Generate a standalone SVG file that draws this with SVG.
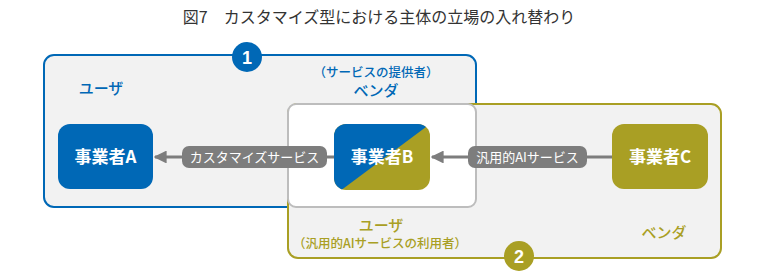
<svg xmlns="http://www.w3.org/2000/svg" width="763" height="279" viewBox="0 0 763 279">
<style>
text{font-family:"Noto Sans CJK JP","Noto Sans",sans-serif;}
.title{font-size:16px;fill:#333;}
.node{font-size:17px;font-weight:bold;fill:#fff;text-anchor:middle;}
.pill{fill:#7d7d7d;}
.plabel{font-size:13px;fill:#fff;text-anchor:middle;}
.blue{fill:#0068b6;}
.olive{fill:#a99f24;}
.lb{font-size:15px;text-anchor:middle;font-weight:500;}
.ls{font-size:12.5px;text-anchor:middle;font-weight:500;}
.num{font-size:18px;font-weight:bold;fill:#fff;text-anchor:middle;font-family:"Liberation Sans",sans-serif;}
.conn{stroke:#7d7d7d;stroke-width:3;fill:none;}
</style>
<defs>
<marker id="ah" viewBox="0 0 10 10" refX="9" refY="5" markerWidth="4.3" markerHeight="4.3" orient="auto" markerUnits="strokeWidth">
<path d="M0,0 L10,5 L0,10 z" fill="#7d7d7d"/>
</marker>
<clipPath id="clipB"><rect x="334" y="124" width="96" height="66" rx="12"/></clipPath>
</defs>
<rect width="763" height="279" fill="#fff"/>
<text class="title" x="379" y="23" text-anchor="middle">図7　カスタマイズ型における主体の立場の入れ替わり</text>

<g id="group1">
<rect x="44" y="55" width="432" height="152" rx="10" fill="#f2f2f2" stroke="#0068b6" stroke-width="2"/>
</g>
<g id="group2">
<rect x="288" y="104" width="433" height="154" rx="10" fill="#f2f2f2" stroke="#a99f24" stroke-width="2"/>
</g>
<g id="overlap">
<rect x="288" y="104" width="188" height="103" rx="8" fill="#fff" stroke="#bdbdbd" stroke-width="2"/>
</g>

<g id="badge1">
<circle cx="247" cy="57" r="15" fill="#0068b6"/>
<text class="num" x="247" y="64">1</text>
</g>
<g id="badge2">
<circle cx="519" cy="256" r="15" fill="#a99f24"/>
<text class="num" x="519" y="263">2</text>
</g>

<g id="labels">
<text class="lb blue" x="101" y="94">ユーザ</text>
<text class="ls blue" x="376" y="77">（サービスの提供者）</text>
<text class="lb blue" x="376" y="96">ベンダ</text>
<text class="lb olive" x="381" y="231">ユーザ</text>
<text class="ls olive" x="380" y="248">（汎用的AIサービスの利用者）</text>
<text class="lb olive" x="664" y="238">ベンダ</text>
</g>

<g id="connectors">
<line class="conn" x1="612" y1="157" x2="432" y2="157" marker-end="url(#ah)"/>
<line class="conn" x1="334" y1="157" x2="155" y2="157" marker-end="url(#ah)"/>
<rect class="pill" x="468" y="146" width="119" height="22" rx="7"/>
<text class="plabel" x="527.5" y="161.5">汎用的AIサービス</text>
<rect class="pill" x="182" y="146" width="145" height="22" rx="7"/>
<text class="plabel" x="254.5" y="161.5">カスタマイズサービス</text>
</g>

<g id="nodeA">
<rect x="58" y="124" width="95" height="65" rx="12" fill="#0068b6"/>
<text class="node" x="105.5" y="163">事業者A</text>
</g>
<g id="nodeB">
<g clip-path="url(#clipB)">
<rect x="334" y="124" width="96" height="66" fill="#a99f24"/>
<polygon points="334,124 430,124 336,194 334,194" fill="#0068b6"/>
</g>
<text class="node" x="382" y="163">事業者B</text>
</g>
<g id="nodeC">
<rect x="612" y="124" width="96" height="65" rx="12" fill="#a99f24"/>
<text class="node" x="660" y="163">事業者C</text>
</g>
</svg>
